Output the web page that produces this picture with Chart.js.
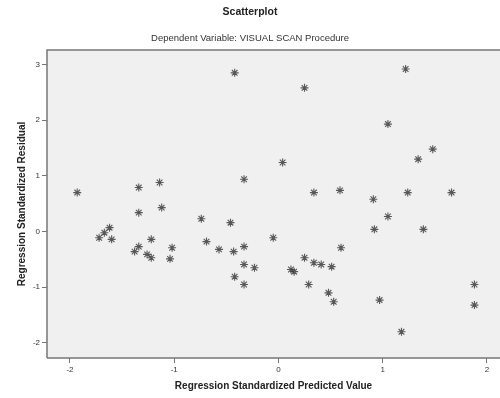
<!DOCTYPE html>
<html>
<head>
<meta charset="utf-8">
<script src="https://cdn.jsdelivr.net/npm/chart.js@4.4.0/dist/chart.umd.min.js"></script>
<style>
html,body{margin:0;padding:0;background:#fff;}
#wrap{width:500px;height:398px;}
</style>
</head>
<body>
<div id="wrap"><canvas id="c" width="500" height="398"></canvas></div>
<script>
const chartTitle = 'Scatterplot';
const chartSubtitle = 'Dependent Variable: VISUAL SCAN Procedure';
const xAxisTitle = 'Regression Standardized Predicted Value';
const yAxisTitle = 'Regression Standardized Residual';
const xTickValues = [-2, -1, 0, 1, 2];
const yTickValues = [-2, -1, 0, 1, 2, 3];

const predictedValues = [
  -1.93, -1.34, -1.14, -1.34, -1.12, -1.67, -1.72, -1.60, -1.62, -1.22,
  -1.34, -1.26, -1.38, -1.22, -1.02, -1.04, -0.33, 0.34, -0.74, -0.46,
  -0.69, -0.57, -0.43, -0.33, -0.05, -0.33, -0.23, -0.42, -0.33, 0.12,
  0.25, 0.34, 0.29, 0.59, 0.91, 1.05, 0.92, 1.24, 0.60, 0.41,
  0.51, 0.15, 0.48, 0.53, 0.97, 1.22, 1.05, 1.48, 1.34, 1.66,
  1.39, -0.42, 0.25, 0.04, 1.88, 1.88, 1.18
];
const residualValues = [
  0.70, 0.79, 0.88, 0.34, 0.43, -0.02, -0.11, -0.14, 0.07, -0.14,
  -0.27, -0.41, -0.36, -0.47, -0.29, -0.49, 0.94, 0.70, 0.23, 0.16,
  -0.18, -0.32, -0.36, -0.27, -0.11, -0.59, -0.65, -0.81, -0.95, -0.68,
  -0.47, -0.56, -0.95, 0.74, 0.58, 0.27, 0.04, 0.70, -0.29, -0.59,
  -0.63, -0.72, -1.10, -1.26, -1.23, 2.92, 1.93, 1.48, 1.30, 0.70,
  0.04, 2.85, 2.58, 1.24, -0.95, -1.32, -1.80
];

const points = predictedValues.map((x, i) => ({x: x, y: residualValues[i]}));

const bgPlugin = {
  id: 'plotBg',
  beforeDraw(chart) {
    const {ctx, chartArea: a} = chart;
    ctx.save();
    ctx.fillStyle = '#f0f0f0';
    ctx.fillRect(a.left, a.top, a.right - a.left, a.bottom - a.top);
    ctx.restore();
  },
  afterDatasetsDraw(chart) {
    const {ctx, chartArea: a} = chart;
    ctx.save();
    ctx.strokeStyle = '#777';
    ctx.lineWidth = 1.5;
    ctx.beginPath();
    ctx.moveTo(a.left, a.bottom);
    ctx.lineTo(a.left, a.top);
    ctx.lineTo(a.right, a.top);
    ctx.moveTo(a.left, a.bottom);
    ctx.lineTo(a.right, a.bottom);
    ctx.stroke();
    ctx.restore();
  }
};

new Chart(document.getElementById('c'), {
  type: 'scatter',
  data: {
    datasets: [{
      data: points,
      pointStyle: 'star',
      radius: 4,
      borderWidth: 1.1,
      borderColor: 'rgba(50,50,50,0.8)',
      backgroundColor: 'rgba(50,50,50,0.8)'
    }]
  },
  options: {
    responsive: false,
    animation: false,
    devicePixelRatio: 1,
    layout: {autoPadding: false, padding: {left: 0, right: 0, top: 0, bottom: 0}},
    plugins: {
      legend: {display: false},
      tooltip: {enabled: false},
      title: {
        display: true,
        text: chartTitle,
        color: '#222',
        font: {family: 'Liberation Sans, Arial, sans-serif', size: 10.5, weight: 'bold'},
        padding: {top: 6, bottom: 14}
      },
      subtitle: {
        display: true,
        text: chartSubtitle,
        color: '#333',
        font: {family: 'Liberation Sans, Arial, sans-serif', size: 9.5},
        padding: {top: 0, bottom: 6}
      }
    },
    scales: {
      x: {
        type: 'linear',
        min: -2.22,
        max: 2.125,
        afterBuildTicks(s) { s.ticks = xTickValues.map(v => ({value: v})); },
        afterFit(s) { s.height = 40; s.paddingLeft = 0; s.paddingRight = 0; },
        grid: {display: true, drawOnChartArea: false, drawTicks: true, tickLength: 5, color: '#777'},
        border: {display: false},
        ticks: {color: '#333', font: {family: 'Liberation Sans, Arial, sans-serif', size: 8}, padding: 2, maxRotation: 0},
        title: {
          display: true,
          text: xAxisTitle,
          color: '#222',
          font: {family: 'Liberation Sans, Arial, sans-serif', size: 10, weight: 'bold'},
          padding: {top: 4, bottom: 6}
        }
      },
      y: {
        type: 'linear',
        min: -2.27,
        max: 3.26,
        afterBuildTicks(s) { s.ticks = yTickValues.map(v => ({value: v})); },
        afterFit(s) { s.width = 47; s.paddingTop = 0; s.paddingBottom = 0; },
        grid: {display: true, drawOnChartArea: false, drawTicks: true, tickLength: 5, color: '#777'},
        border: {display: false},
        ticks: {color: '#333', font: {family: 'Liberation Sans, Arial, sans-serif', size: 8}, padding: 2},
        title: {
          display: true,
          text: yAxisTitle,
          color: '#222',
          font: {family: 'Liberation Sans, Arial, sans-serif', size: 10, weight: 'bold'},
          padding: {top: 16, bottom: 4}
        }
      }
    }
  },
  plugins: [bgPlugin]
});
</script>
</body>
</html>
